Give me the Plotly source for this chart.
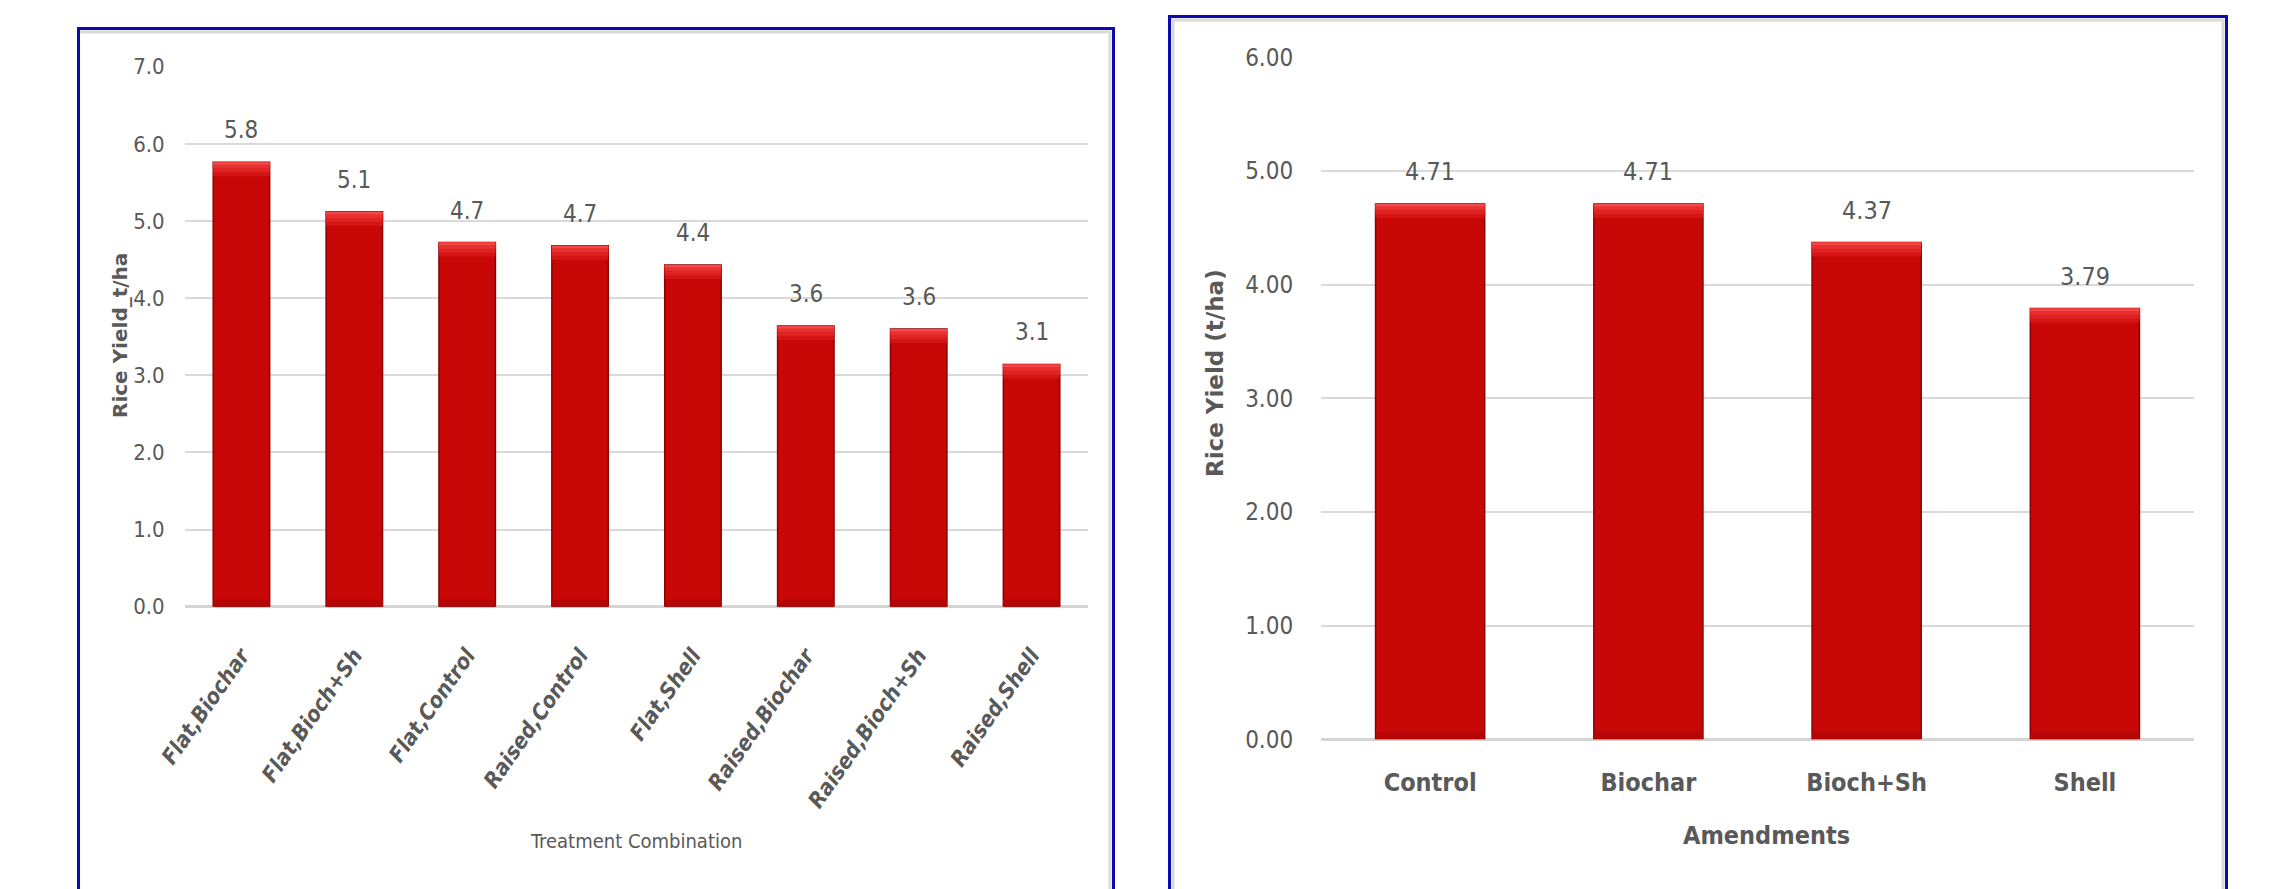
import plotly.graph_objects as go

# ---- data -------------------------------------------------------------
treatments = ["Flat,Biochar", "Flat,Bioch+Sh", "Flat,Control", "Raised,Control",
              "Flat,Shell", "Raised,Biochar", "Raised,Bioch+Sh", "Raised,Shell"]
treatment_yield = [5.76, 5.12, 4.72, 4.68, 4.43, 3.64, 3.60, 3.14]

amendments = ["Control", "Biochar", "Bioch+Sh", "Shell"]
amendment_yield = [4.71, 4.71, 4.37, 3.79]

left_ticks = [0, 1, 2, 3, 4, 5, 6, 7]
right_ticks = [0, 1, 2, 3, 4, 5, 6]

# ---- page geometry (pixels) --------------------------------------------
W, H = 2274, 889
NARROW = "DejaVu Sans Condensed, Liberation Sans Narrow, Arial Narrow, sans-serif"
WIDE = "DejaVu Sans, Verdana, sans-serif"
GREY = "#595959"

def fx(px):
    return px / W

def fy(py):
    return 1 - py / H

# plot areas: (left, right, top, bottom) in pixels
L_AREA = (185, 1088, 66.7, 606.7)
R_AREA = (1321, 2194, 57.3, 739.3)

BODY = "#C80707"
EDGE = "#8A0000"
BOTTOM = "#B50606"
# top bevel drawn as a stepped gradient: (height in px, colour), outermost first
BEVEL = [(14, "#D51515"), (10, "#DF2323"), (6, "#E83030"), (2.5, "#F24848")]


def bar_set(cats, vals, xa, ya, px_per_unit):
    n = len(vals)
    bot = 7 / px_per_unit
    common = dict(x=cats, xaxis=xa, yaxis=ya, width=0.5, hoverinfo="skip",
                  showlegend=False)
    traces = [
        go.Bar(y=vals, marker=dict(color=BODY, line=dict(color=EDGE, width=1.5)), **common),
        go.Bar(y=[bot] * n, base=[0] * n, marker=dict(color=BOTTOM, line=dict(width=0)), **common),
    ]
    for px, col in BEVEL:
        h = px / px_per_unit
        traces.append(go.Bar(y=[h] * n, base=[v - h for v in vals],
                             marker=dict(color=col, line=dict(width=0)), **common))
    return traces


l_ppu = (L_AREA[3] - L_AREA[2]) / 7
r_ppu = (R_AREA[3] - R_AREA[2]) / 6

fig = go.Figure(bar_set(treatments, treatment_yield, "x", "y", l_ppu)
                + bar_set(amendments, amendment_yield, "x2", "y2", r_ppu))

annotations = []
for c, v in zip(treatments, treatment_yield):
    annotations.append(dict(x=c, y=v, xref="x", yref="y", text=f"{v:.1f}",
                            showarrow=False, yshift=32, yanchor="middle",
                            font=dict(family=NARROW, size=24, color=GREY)))
for c, v in zip(amendments, amendment_yield):
    annotations.append(dict(x=c, y=v, xref="x2", yref="y2", text=f"{v:.2f}",
                            showarrow=False, yshift=32, yanchor="middle",
                            font=dict(family=NARROW, size=25, color=GREY)))

# axis titles
annotations += [
    dict(x=fx(636), y=fy(841), xref="paper", yref="paper", text="Treatment Combination",
         showarrow=False, xanchor="center", yanchor="middle",
         font=dict(family=NARROW, size=20, color=GREY)),
    dict(x=fx(120), y=fy(336), xref="paper", yref="paper", text="Rice Yield_t/ha",
         showarrow=False, textangle=-90, xanchor="center", yanchor="middle",
         font=dict(family=WIDE, size=20, color=GREY, weight="bold")),
    dict(x=fx(1766), y=fy(835), xref="paper", yref="paper", text="Amendments",
         showarrow=False, xanchor="center", yanchor="middle",
         font=dict(family=NARROW, size=25, color=GREY, weight="bold")),
    dict(x=fx(1215), y=fy(373), xref="paper", yref="paper", text="Rice Yield (t/ha)",
         showarrow=False, textangle=-90, xanchor="center", yanchor="middle",
         font=dict(family=WIDE, size=23, color=GREY, weight="bold")),
]

# panel frames
BLUE = "#0A0AAE"
SHADE = "#DADADA"
shapes = [
    dict(type="rect", xref="paper", yref="paper", x0=fx(78.5), x1=fx(1113.5),
         y0=fy(1000), y1=fy(28.5), line=dict(color=BLUE, width=3), layer="above"),
    dict(type="line", xref="paper", yref="paper", x0=fx(80), x1=fx(1111),
         y0=fy(32), y1=fy(32), line=dict(color=SHADE, width=3)),
    dict(type="line", xref="paper", yref="paper", x0=fx(1110), x1=fx(1110),
         y0=fy(32), y1=fy(1000), line=dict(color=SHADE, width=3)),
    dict(type="rect", xref="paper", yref="paper", x0=fx(1169.5), x1=fx(2226.5),
         y0=fy(1000), y1=fy(16.5), line=dict(color=BLUE, width=3), layer="above"),
    dict(type="line", xref="paper", yref="paper", x0=fx(1171), x1=fx(2224),
         y0=fy(20), y1=fy(20), line=dict(color=SHADE, width=3)),
    dict(type="line", xref="paper", yref="paper", x0=fx(1173), x1=fx(1173),
         y0=fy(20), y1=fy(1000), line=dict(color=SHADE, width=3)),
    dict(type="line", xref="paper", yref="paper", x0=fx(2223), x1=fx(2223),
         y0=fy(20), y1=fy(1000), line=dict(color=SHADE, width=3)),
]

hidden_ticks = dict(ticks="outside", tickcolor="rgba(0,0,0,0)", automargin=False)

fig.update_layout(
    width=W, height=H,
    margin=dict(l=0, r=0, t=0, b=0, pad=0),
    paper_bgcolor="white", plot_bgcolor="white",
    barmode="overlay",
    font=dict(family=NARROW, color=GREY),
    annotations=annotations,
    shapes=shapes,
    xaxis=dict(domain=[fx(L_AREA[0]), fx(L_AREA[1])], anchor="y", type="category",
               showgrid=False, showline=False, tickangle=-55, ticklen=26,
               tickfont=dict(family=NARROW, size=22, color=GREY, weight="bold", style="italic"),
               **hidden_ticks),
    yaxis=dict(domain=[fy(L_AREA[3]), fy(L_AREA[2])], anchor="x", range=[0, 7],
               tickvals=left_ticks, tickformat=".1f", showline=False,
               gridcolor="#D9D9D9", gridwidth=2, zeroline=True,
               zerolinecolor="#D4D4D4", zerolinewidth=3, ticklen=15,
               tickfont=dict(family=NARROW, size=22, color=GREY), **hidden_ticks),
    xaxis2=dict(domain=[fx(R_AREA[0]), fx(R_AREA[1])], anchor="y2", type="category",
                showgrid=False, showline=False, ticklen=21,
                tickfont=dict(family=NARROW, size=25, color=GREY, weight="bold"),
                **hidden_ticks),
    yaxis2=dict(domain=[fy(R_AREA[3]), fy(R_AREA[2])], anchor="x2", range=[0, 6],
                tickvals=right_ticks, tickformat=".2f", showline=False,
                gridcolor="#D9D9D9", gridwidth=2, zeroline=True,
                zerolinecolor="#D4D4D4", zerolinewidth=3, ticklen=22,
                tickfont=dict(family=NARROW, size=24, color=GREY), **hidden_ticks),
)

fig.write_html("out.html")
